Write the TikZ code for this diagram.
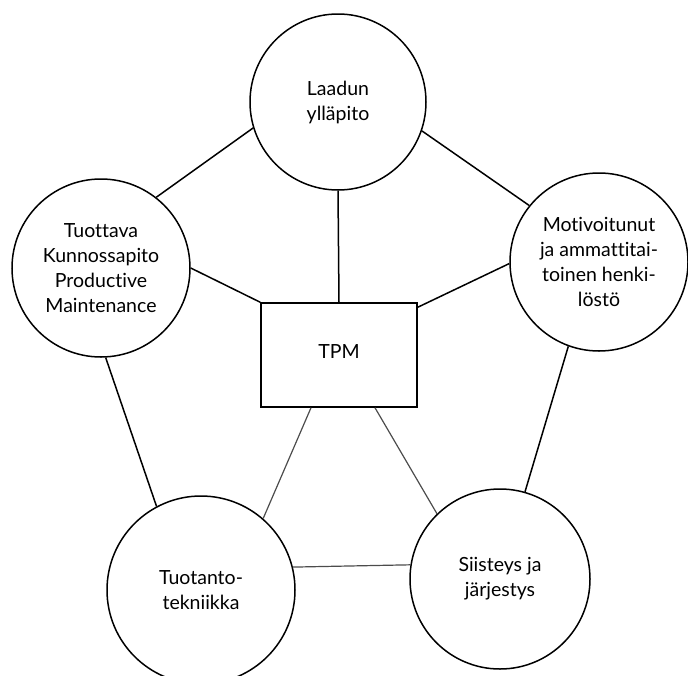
\documentclass[tikz,border=0pt]{standalone}
\usepackage{fontspec}
\setmainfont{Lato}[Ligatures=NoCommon]
\begin{document}
\begin{tikzpicture}[x=1pt,y=-1pt,
  pillar/.style={circle,draw=black,line width=1.5pt,inner sep=0pt,
    align=center,font=\fontsize{19.5}{25}\selectfont},
  core/.style={rectangle,draw=black,line width=1.5pt,inner sep=0pt,
    minimum width=156pt,minimum height=104pt,font=\fontsize{19.5}{25}\selectfont},
  link/.style={line width=1.5pt,black},
  thinlink/.style={line width=1.2pt,black!70}]
\useasboundingbox (0,0) rectangle (688,675);

% the five pillars round the centre box
\node[pillar,minimum size=176pt] (qual) at (338,102) {Laadun\\ylläpito};
\node[pillar,minimum size=178pt] (pm)   at (101,268) {Tuottava\\Kunnossapito\\Productive\\Maintenance};
\node[pillar,minimum size=178pt] (staff) at (599,262) {Motivoitunut\\ja ammattitai-\\toinen henki-\\löstö};
\node[pillar,minimum size=188pt] (tech) at (201,590) {Tuotanto-\\tekniikka};
\node[pillar,minimum size=180pt] (order) at (500,579) {Siisteys ja\\järjestys};

% centre box
\node[core] (tpm) at (339,355) {\raisebox{7pt}{TPM}};

% outer ring
\draw[link] (qual.197.6) -- (pm.52.4);
\draw[link] (qual.341) -- (staff.141);
\draw[link] (pm.273) -- (tech.118.9);
\draw[link] (staff.250) -- (order.74.5);
\draw[thinlink] (tech.14.5) -- (order.171.6);

% spokes to the centre box
\draw[link] (qual.270) -- (tpm.north);
\draw[link] (pm.0) -- (tpm.north west);
\draw[link] (staff.181) -- ([yshift=-5pt]tpm.north east);
\draw[thinlink] ([xshift=-28pt]tpm.south) -- (tech.49.7);
\draw[thinlink] ([xshift=36pt]tpm.south) -- (order.134.6);
\end{tikzpicture}
\end{document}
